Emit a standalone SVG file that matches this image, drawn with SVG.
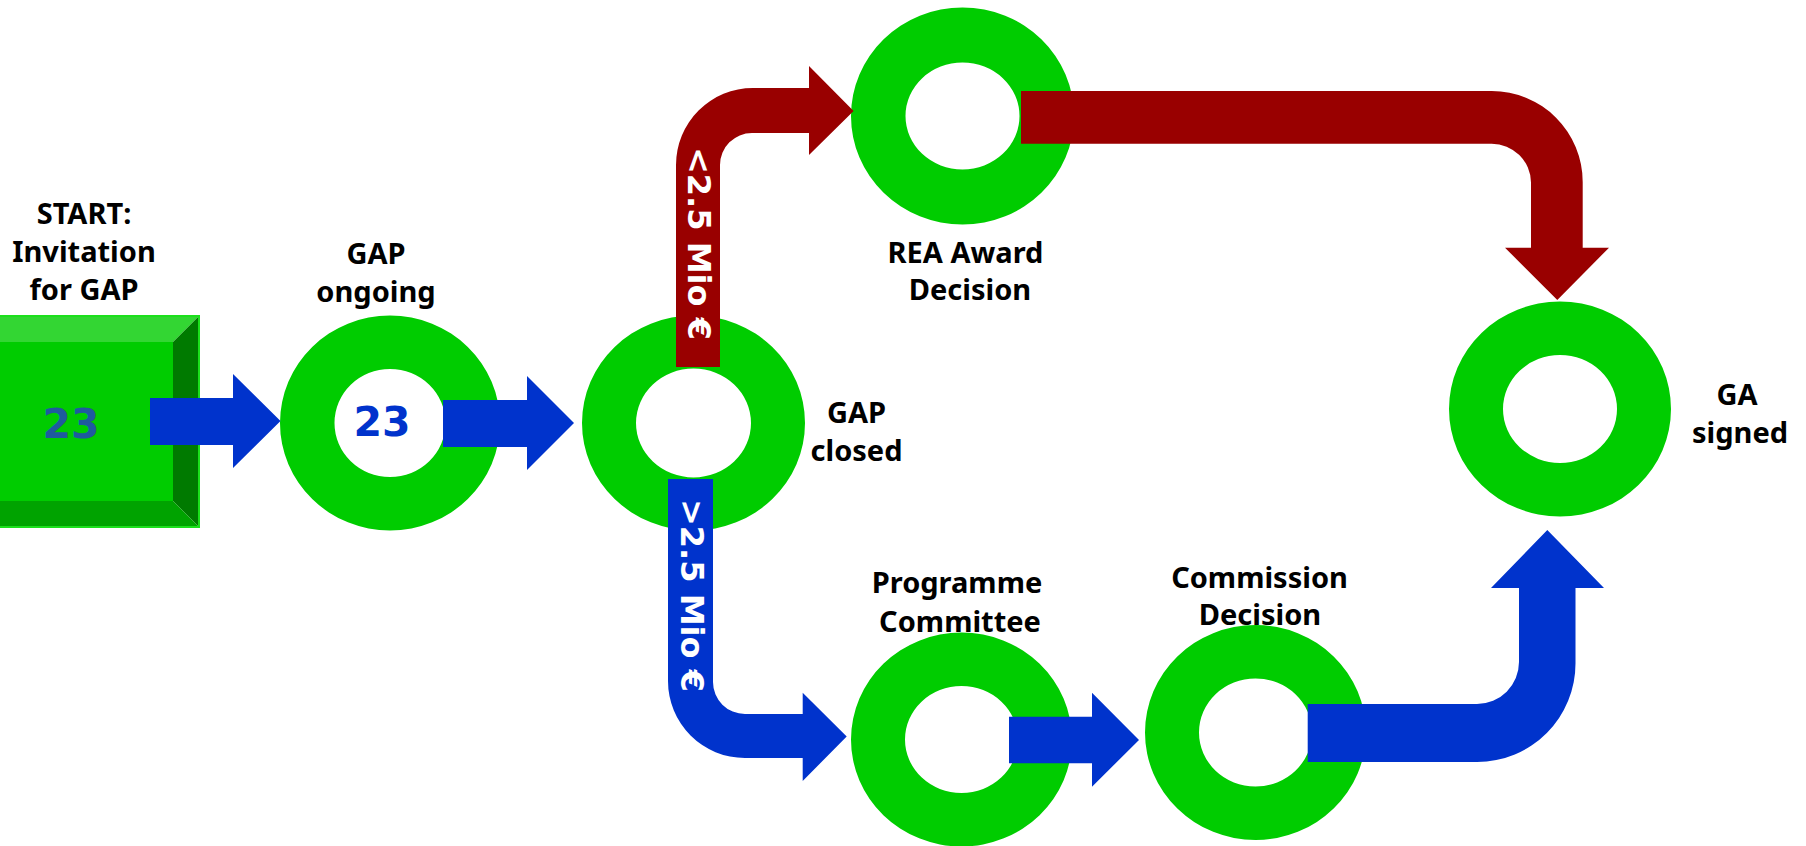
<svg xmlns="http://www.w3.org/2000/svg" width="1806" height="846" viewBox="0 0 1806 846">
<style>
.lbl{font-family:"Noto Sans","Open Sans","DejaVu Sans",sans-serif;font-weight:bold;font-size:29px;fill:#000;text-anchor:middle}
.num{font-family:"DejaVu Sans","Verdana",sans-serif;font-weight:bold;font-size:41px;text-anchor:middle}
.vt{font-family:"DejaVu Sans","Verdana",sans-serif;font-weight:bold;font-size:32px;fill:#fff}
.ring{fill:#00CC00;fill-rule:evenodd}
.blue{fill:#0033CC}
.red{fill:#990000}
</style>
<rect width="1806" height="846" fill="#fff"/>

<g id="node-start">
  <polygon points="-27,316 199,316 173,342 -1,342" fill="#33D633"/>
  <polygon points="199,316 199,527 173,501 173,342" fill="#007A00"/>
  <polygon points="-27,527 199,527 173,501 -1,501" fill="#00A300"/>
  <rect x="-1" y="342" width="174" height="159" fill="#00CC00"/>
  <rect x="-27" y="316" width="226" height="211" fill="none" stroke="#1BE01B" stroke-width="2"/>
  <text class="num" x="71" y="438" fill="#1F5A9E">23</text>
  <text class="lbl" x="84" y="224">START:</text>
  <text class="lbl" x="84" y="262">Invitation</text>
  <text class="lbl" x="84" y="300">for GAP</text>
</g>

<g id="node-gap-ongoing">
  <path class="ring" d="M280,423 a110,107.5 0 1,0 220,0 a110,107.5 0 1,0 -220,0 Z M334.5,423 a55.5,54 0 1,0 111,0 a55.5,54 0 1,0 -111,0 Z"/>
  <text class="num" x="382" y="436" fill="#0033CC">23</text>
  <text class="lbl" x="376" y="264">GAP</text>
  <text class="lbl" x="376" y="302">ongoing</text>
</g>

<g id="node-gap-closed">
  <path class="ring" d="M582,423 a111.5,107.5 0 1,0 223,0 a111.5,107.5 0 1,0 -223,0 Z M636,423 a57.5,54.5 0 1,0 115,0 a57.5,54.5 0 1,0 -115,0 Z"/>
  <text class="lbl" x="856.5" y="423">GAP</text>
  <text class="lbl" x="856.5" y="461">closed</text>
</g>

<g id="node-rea">
  <path class="ring" d="M851,116 a111.5,108.5 0 1,0 223,0 a111.5,108.5 0 1,0 -223,0 Z M905.5,116 a57,53.5 0 1,0 114,0 a57,53.5 0 1,0 -114,0 Z"/>
  <text class="lbl" x="965.5" y="263">REA Award</text>
  <text class="lbl" x="970" y="300">Decision</text>
</g>

<g id="node-programme-committee">
  <path class="ring" d="M851,739.5 a110.5,107 0 1,0 221,0 a110.5,107 0 1,0 -221,0 Z M905,739.5 a56.5,53.5 0 1,0 113,0 a56.5,53.5 0 1,0 -113,0 Z"/>
  <text class="lbl" x="957" y="593">Programme</text>
  <text class="lbl" x="960" y="632">Committee</text>
</g>

<g id="node-commission">
  <path class="ring" d="M1145,732.5 a110.5,107.5 0 1,0 221,0 a110.5,107.5 0 1,0 -221,0 Z M1199,732.5 a56.5,54 0 1,0 113,0 a56.5,54 0 1,0 -113,0 Z"/>
  <text class="lbl" x="1259.5" y="588">Commission</text>
  <text class="lbl" x="1260" y="625">Decision</text>
</g>

<g id="node-ga-signed">
  <path class="ring" d="M1449,409 a111,107.5 0 1,0 222,0 a111,107.5 0 1,0 -222,0 Z M1503,409 a57,54 0 1,0 114,0 a57,54 0 1,0 -114,0 Z"/>
  <text class="lbl" x="1737" y="405">GA</text>
  <text class="lbl" x="1740" y="443">signed</text>
</g>

<g id="connectors">
  <polygon class="blue" points="150,398 233,398 233,374 280.5,421 233,468 233,445 150,445"/>
  <polygon class="blue" points="443,400 527,400 527,376 574,423 527,470 527,447 443,447"/>
  <path class="red" d="M676,367 L676,165 A77,77 0 0,1 753,88 L809,88 L809,66 L853.6,111 L809,155 L809,133 L752,133 A32,32 0 0,0 720,165 L720,367 Z"/>
  <path class="blue" d="M668,479 L668,681 A77,77 0 0,0 745,758 L802.7,758 L802.7,781 L846.7,736.5 L802.7,692.7 L802.7,714 L745,714 A32,32 0 0,1 713,682 L713,479 Z"/>
  <polygon class="blue" points="1009,716.7 1092,716.7 1092,692.7 1139,740 1092,786.7 1092,763.3 1009,763.3"/>
  <path class="blue" d="M1307.7,704 L1477,704 A42,42 0 0,0 1519,662 L1519,588 L1491,588 L1547.3,530 L1604,588 L1575.5,588 L1575.5,663 A98.5,98.5 0 0,1 1477,762 L1307.7,762 Z"/>
  <path class="red" d="M1021,91 L1491.7,91 A91,91 0 0,1 1582.7,182 L1582.7,247.7 L1609,247.7 L1557.3,300 L1505,247.7 L1531,247.7 L1531,182.5 A39.3,39.3 0 0,0 1491.7,143.7 L1021,143.7 Z"/>
  <text class="vt" transform="translate(688,147) rotate(90)">&lt;2.5 Mio €</text>
  <text class="vt" transform="translate(681,499) rotate(90)">&gt;2.5 Mio €</text>
</g>
</svg>
